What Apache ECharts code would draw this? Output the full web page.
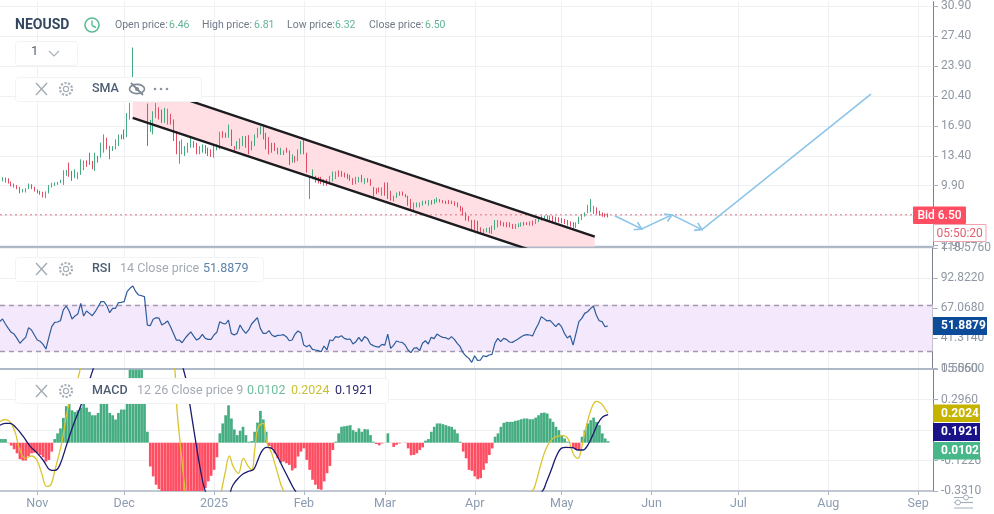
<!DOCTYPE html>
<html><head><meta charset="utf-8">
<style>html,body{margin:0;padding:0;background:#fff}#c{width:994px;height:514px}</style>
<script src="https://cdn.jsdelivr.net/npm/echarts@6/dist/echarts.min.js"></script>
</head><body><div id="c"></div>
<script>
// ---- values (one entry per day, starting 19 Oct 2024) ----
const firstDay = Date.UTC(2024, 9, 19);
const opens = [
 10.9,10.4,10.86,10.78,10.39,10.16,9.97,9.77,9.11,9.11,9.5,10.08,9.77,
 9.46,9.31,9.19,8.46,9.0,9.7,9.85,10.0,10.2,10.0,11.05,12.6,11.63,10.78,10.66,11.17,11.71,12.87,13.76,12.8,11.63,13.38,13.18,13.76,15.51,14.54,13.96,14.15,14.54,15.9,
 16.48,15.59,17.64,22.5,22,20.8,21.5,21,19.5,16.2,15.89,17.83,19.07,18.8,17.25,17.05,18.3,17.64,16.28,12.48,13.57,13.37,13.76,14.34,15.12,14.92,13.57,13.76,14.65,14.34,14.15,
 13.18,14.03,14.15,16.28,16.09,15.5,16.47,14.53,14.15,14.15,14.53,15.7,15.81,14.03,14.53,15.5,15.89,16.86,16.09,15.58,14.92,14.92,14.34,13.49,13.49,14.34,14.03,12.6,13.37,12.79,13.57,
 15.31,13.76,8.33,10.66,11.05,10.94,10.94,9.89,10.67,10.08,10.39,10.67,11.71,11.63,11.44,11.32,11.17,10.78,10.08,10.28,11.17,10.08,10.78,10.67,9.77,9.62,9.7,8.73,
 10.28,10.28,9.31,8.07,8.46,9.23,9.23,8.92,8.73,8.34,7.06,7.37,7.37,7.56,8.15,7.56,8.22,7.76,7.95,8.34,8.22,8.15,8.22,8.15,8.07,7.95,7.56,7.37,6.79,6.4,5.9,
 5.9,5.82,5.04,4.35,4.46,5.04,4.27,4.73,5.04,5.82,5.63,5.63,5.63,5.43,4.85,5.04,5.12,5.66,5.63,5.24,5.82,5.43,5.63,5.82,5.9,6.44,6.4,6.4,6.28,6.2,
 6.13,6.01,5.9,5.74,5.63,4.97,5.43,5.9,6.28,6.67,6.79,6.59,7.37,6.98,6.79,6.67,6.67
];
const closes = [
 10.4,10.9,10.28,10.16,9.81,9.7,9.5,9.0,9.5,9.62,10.16,9.5,9.23,
 9.0,8.84,8.53,9.23,10.0,10.24,10.28,10.35,10.6,11.71,11.75,10.94,10.47,11.83,11.48,12.99,12.87,12.1,12.33,11.83,13.76,12.6,14.93,15.9,14.15,12.99,14.54,15.32,15.9,15.32,
 15.32,18.4,19.58,26.05,20.5,22,20.5,20.3,14.55,17.6,18.6,19.57,17.64,17.25,19.0,18.9,17.05,15.12,13.57,15.12,15.31,14.53,14.92,15.5,14.34,13.57,14.53,14.73,13.64,13.37,13.26,
 14.73,14.73,16.2,15.5,15.5,17.05,14.53,13.76,15.12,15.43,15.7,14.34,13.57,15.12,15.89,16.67,16.86,15.31,14.15,13.57,13.76,13.95,13.57,14.34,14.03,13.76,12.33,13.57,12.6,14.15,15.12,
 13.57,11.43,11.05,11.82,10.28,10.16,10.08,10.67,9.89,11.05,11.56,11.56,10.94,10.94,10.86,10.67,10.47,10.0,10.94,10.94,10.28,10.78,10.28,9.89,8.61,8.92,9.11,9.7,
 8.73,8.34,8.15,8.73,9.11,8.73,8.73,8.53,7.56,7.18,7.95,7.95,7.95,8.15,7.76,8.22,7.68,8.34,8.53,7.95,7.84,7.76,7.76,7.76,7.56,7.37,6.9,6.4,5.82,5.74,4.66,
 4.73,4.46,4.27,4.85,4.97,4.35,5.24,5.9,5.9,5.24,5.12,5.04,5.04,4.85,5.43,5.51,5.63,5.24,5.31,5.74,5.24,6.01,6.2,6.4,6.4,5.9,5.82,5.63,5.63,5.63,
 5.51,5.43,5.24,5.12,4.97,5.63,6.28,6.59,6.79,7.68,8.34,7.56,6.59,6.4,6.28,6.2,6.2
];
const rsiValues = [
 55.6,57.9,53.6,49.9,46.5,45.0,41.3,37.1,39.9,42.2,
 50.5,48.5,44.2,39.9,38.8,36.2,32.2,42.2,51.3,55.0,
 55.3,56.4,65.6,69.0,64.7,57.9,60.4,62.1,71.3,60.4,
 64.7,62.7,60.7,64.1,68.4,72.7,72.7,69.3,63.3,67.0,
 67.0,71.8,72.1,72.7,81.2,84.1,86.1,81.2,78.4,77.8,
 77.0,52.7,52.2,57.6,59.0,58.7,52.7,54.2,56.2,51.3,
 45.6,39.9,39.9,37.6,41.3,44.2,46.8,43.3,39.9,41.3,
 44.8,41.3,40.5,40.5,44.2,46.5,55.6,54.2,53.6,57.0,
 45.6,44.2,45.6,52.7,48.5,45.6,48.5,53.6,56.4,59.0,
 49.9,45.6,45.6,47.9,44.2,42.8,43.9,44.0,44.5,42.8,39.3,
 39.9,45.0,47.6,46.2,35.6,34.2,35.6,31.9,31.4,30.8,29.9,
 34.8,31.4,
 39.9,39.3,42.8,42.2,43.6,41.3,40.5,40.8,36.5,38.5,
 42.2,38.8,42.8,41.3,36.5,35.1,34.2,33.9,36.2,35.6,
 45.0,32.8,35.4,39.1,38.2,37.9,35.6,31.4,29.1,32.8,
 33.4,30.8,37.1,39.3,36.5,42.2,41.1,45.0,43.3,42.2,
 41.9,40.5,42.8,40.5,37.1,34.2,29.1,26.2,24.2,20.8,
 26.5,22.5,22.8,26.5,25.7,27.1,27.7,37.1,41.3,38.5,
 41.3,40.5,38.2,37.9,39.3,40.8,42.5,43.9,44.5,44.2,
 43.3,49.0,53.6,59.9,58.2,56.2,56.7,54.2,51.3,54.2,
 51.3,45.6,41.6,43.6,35.6,45.6,55.6,58.4,62.7,64.1,
 66.7,69.0,61.3,56.4,55.6,51.3,51.8879
];
const macdHistogram = [
 .025,.025,.025,-.003,-.02,-.045,-.073,-.113,-.122,-.122,
 -.091,-.073,-.068,-.073,-.084,-.1,-.129,-.118,-.061,.025,
 .064,.098,.17,.25,.27,.222,.211,.222,.24,.27,
 .24,.211,.188,.188,.204,.27,.27,.27,.204,.188,
 .159,.204,.227,.227,.27,.5,.5,.5,.5,.5,
 .3,.075,-.163,-.231,-.288,-.318,-.37,-.42,-.47,-.52,
 -.55,-.58,-.6,-.58,-.56,-.52,-.48,-.44,-.41,-.38,
 -.35,-.31,-.265,-.227,-.186,-.1,.064,.132,.188,.256,
 .166,.091,.052,.082,.109,.052,.007,.011,.075,.138,
 .218,.159,.075,-.023,-.039,-.073,-.107,-.136,-.129,-.141,
 -.152,-.19,-.175,-.095,-.061,-.039,-.118,-.186,-.254,-.288,
 -.318,-.322,-.265,-.209,-.159,-.05,.007,.064,.109,.113,
 .116,.12,.086,.075,.098,.075,.093,.091,.052,.007,
 -.009,-.018,-.005,.001,.064,.001,-.029,-.014,-.005,.001,
 -.002,-.039,-.086,-.084,-.073,-.05,-.032,.014,.025,.075,
 .109,.132,.132,.127,.12,.113,.109,.091,.064,.007,
 -.061,-.107,-.186,-.193,-.231,-.25,-.243,-.186,-.141,-.084,
 -.039,.041,.064,.109,.136,.143,.143,.143,.15,.154,
 .161,.166,.166,.161,.161,.172,.188,.204,.206,.2,
 .166,.143,.109,.086,.052,.029,.007,-.002,-.039,-.05,
 -.05,.041,.086,.132,.154,.172,.143,.12,.064,.029,.0102
];
// day number since firstDay, value
const macdLine = [[.1,.12],[1.9,.132],[3.6,.132],[5.9,.098],[8.2,.041],[10.5,-.023],[12.8,-.068],[15.1,-.122],[17.4,-.186],[19.1,-.19],[20.8,-.152],[23.1,-.016],[25.4,.12],[28.3,.268],[32.1,.494],[38,.85],[49.6,1.05],[57.6,.85],[64,.46],[65.7,.256],[67.4,.041],[69.1,-.163],[70.9,-.327],[74.9,-.52],[78.3,-.48],[79.8,-.327],[80.6,-.288],[82.4,-.243],[84.1,-.213],[85.8,-.197],[87.5,-.186],[88.7,-.141],[90.4,-.061],[92.1,-.032],[93.9,-.039],[95.6,-.084],[97.9,-.175],[100.2,-.265],[101.9,-.327],[110,-.55],[130,-.65],[150,-.6],[170,-.55],[180,-.5],[187.5,-.327],[188.6,-.277],[190.4,-.186],[192.1,-.095],[193.8,-.039],[195.5,-.032],[197.8,-.034],[199.6,-.05],[201.3,-.05],[203,-.016],[204.7,.052],[206.5,.132],[208.2,.177],[210,.1921]];
const signalLine = [[.1,.143],[1.9,.159],[3.6,.143],[5.3,.075],[7,-.05],[8.8,-.107],[11,-.091],[12.8,-.118],[14.5,-.209],[16.2,-.299],[17.4,-.295],[19.1,-.186],[21.4,-.005],[23.7,.245],[27.7,.494],[30,.9],[46.1,1.1],[57.6,.9],[60.5,.494],[61.1,.256],[62.2,.018],[64,-.327],[65.1,-.5],[73.7,-.6],[76.6,-.327],[77.8,-.209],[79.3,-.091],[80.6,-.163],[82.4,-.209],[84.1,-.107],[85.8,-.163],[87,-.186],[88.1,-.039],[89.3,.109],[91,.132],[92.1,.007],[93.9,-.073],[95.6,-.186],[97.9,-.327],[105,-.55],[130,-.65],[160,-.6],[175,-.5],[184,-.327],[185.2,-.265],[186.9,-.141],[188.6,-.039],[190.4,.018],[192.1,.041],[194.4,.048],[196.1,.029],[197.3,-.039],[198.4,-.091],[199.6,-.107],[200.7,-.05],[201.9,.064],[203,.154],[204.7,.256],[205.9,.283],[207.6,.268],[209.3,.222],[210,.2024]];
const channelDays = [45.92, 205.4];
const channelUpper = [22.07, 3.96];
const channelLower = [17.83, -0.11];
// hand-drawn path on the price pane: day number, price, arrow head at this point
const pathDays = [212.3, 221.6, 232, 242.4, 300.7];
const pathPrices = [6.4, 4.85, 6.5, 4.77, 20.6];
const pathHeads = [0, 1, 1, 1, 0];
const bidPrice = 6.5;
const rsiUpper = 70, rsiLower = 30;
const priceTicks = [2.9,6.4,9.9,13.4,16.9,20.4,23.9,27.4,30.9];
const rsiTicks = [15.56,41.314,67.068,92.822,118.576];
const macdTicks = [-0.331,-0.122,0.087,0.296,0.505];
const xTickDates = ['2024-11-01','2024-12-01','2025-01-01','2025-02-01','2025-03-01','2025-04-01','2025-05-01','2025-06-01','2025-07-01','2025-08-01','2025-09-01'];
const xTickLabels = ['Nov','Dec','2025','Feb','Mar','Apr','May','Jun','Jul','Aug','Sep'];

// ---- chart ---- (x axis counts days since firstDay)
const DAY = 86400000;
const xTicks = xTickDates.map(s => Math.round((Date.parse(s + 'T00:00:00Z') - firstDay) / DAY));
const xMin = 0.13, xMax = 322.13;
const FONT = 'Roboto, sans-serif';
const GRIDC = '#eef0f4', LABELC = '#8f97a4', SEP = '#aeb8c6';
const UP = '#46ad82', DOWN = '#ff4d62';

const grids = [
 {left:0,right:61,top:0,height:246.5},
 {left:0,right:61,top:248,height:120.5},
 {left:0,right:61,top:369,height:122}
];
function xAxis(i){
 return {type:'value',gridIndex:i,min:xMin,max:xMax,
  axisLine:{show:true,onZero:false,lineStyle:{color:SEP,width:i===2?1.5:2}},
  axisTick:{show:i===2,customValues:xTicks,length:4,lineStyle:{color:SEP}},
  axisLabel:{show:i===2,customValues:xTicks,color:'#8b9bb0',fontFamily:FONT,fontSize:12.5,margin:6,hideOverlap:false,
   formatter:v=>xTickLabels[xTicks.indexOf(v)]||''},
  splitLine:{show:true,lineStyle:{color:GRIDC,width:1}}
 };
}
function yAxis(i,min,max,ticks,fmt){
 return {type:'value',gridIndex:i,position:'right',min,max,
  axisLine:{show:true,onZero:false,lineStyle:{color:'#7a808a',width:1}},
  axisTick:{show:true,length:5,customValues:ticks,lineStyle:{color:'#a9b0ba'}},
  axisLabel:{customValues:ticks,color:LABELC,fontFamily:FONT,fontSize:12,margin:8,hideOverlap:false,formatter:v=>v.toFixed(fmt)},
  splitLine:{show:true,lineStyle:{color:GRIDC,width:1}}
 };
}
const candleData = opens.map((o,i)=>[i,o,closes[i],Math.min(o,closes[i]),Math.max(o,closes[i])]);

const series = [
 {type:'custom',xAxisIndex:0,yAxisIndex:0,z:1,clip:true,silent:true,data:[[channelDays[0],channelUpper[0]]],
  renderItem:(p,api)=>{
   const pts=[[channelDays[0],channelUpper[0]],[channelDays[1],channelUpper[1]],[channelDays[1],channelLower[1]],[channelDays[0],channelLower[0]]]
    .map(a=>api.coord(a));
   return {type:'polygon',shape:{points:pts},style:{fill:'#ffdfe3'}};
  }},
 {type:'line',xAxisIndex:0,yAxisIndex:0,z:2,symbol:'none',silent:true,data:[[xMin,bidPrice],[xMax,bidPrice]],
  lineStyle:{color:'#e0707e',width:1,type:[2,3]}},
 {type:'candlestick',xAxisIndex:0,yAxisIndex:0,z:3,barWidth:1,silent:true,data:candleData,
  itemStyle:{color:UP,color0:DOWN,borderColor:UP,borderColor0:'#e24c62',borderWidth:1}},
 {type:'line',xAxisIndex:0,yAxisIndex:0,z:4,symbol:'none',silent:true,data:channelDays.map((d,i)=>[d,channelUpper[i]]),
  lineStyle:{color:'#1c1c20',width:2.4}},
 {type:'line',xAxisIndex:0,yAxisIndex:0,z:4,symbol:'none',silent:true,data:channelDays.map((d,i)=>[d,channelLower[i]]),
  lineStyle:{color:'#1c1c20',width:2.4}},
 {type:'custom',xAxisIndex:0,yAxisIndex:0,z:5,clip:true,silent:true,data:[[pathDays[0],pathPrices[0]]],
  renderItem:(p,api)=>{
   const pts=pathDays.map((d,i)=>api.coord([d,pathPrices[i]]));
   const children=[{type:'polyline',shape:{points:pts},style:{stroke:'#8cc4e8',lineWidth:1.6,fill:'none'}}];
   pts.forEach((q,i)=>{
    if(!pathHeads[i])return;
    const a=Math.atan2(q[1]-pts[i-1][1],q[0]-pts[i-1][0]);
    const wing=s=>[q[0]-8*Math.cos(a+s),q[1]-8*Math.sin(a+s)];
    children.push({type:'polyline',shape:{points:[wing(.55),q,wing(-.55)]},style:{stroke:'#8cc4e8',lineWidth:1.6,fill:'none'}});
   });
   return {type:'group',children};
  }},
 {type:'line',xAxisIndex:1,yAxisIndex:1,z:3,symbol:'none',silent:true,data:rsiValues.map((v,i)=>[i,v]),
  lineStyle:{color:'#2e5c9a',width:1.2},
  markArea:{silent:true,z:1,itemStyle:{color:'#f4e8fc'},data:[[{yAxis:rsiUpper},{yAxis:rsiLower}]]},
  markLine:{silent:true,symbol:'none',z:2,label:{show:false},lineStyle:{color:'#a49aae',width:1.4,type:[5,4]},data:[{yAxis:rsiUpper},{yAxis:rsiLower}]}},
 {type:'bar',xAxisIndex:2,yAxisIndex:2,z:2,barWidth:2.7,silent:true,
  data:macdHistogram.map((v,i)=>({value:[i,v],itemStyle:{color:v>=0?UP:DOWN}}))},
 {type:'line',xAxisIndex:2,yAxisIndex:2,z:3,symbol:'none',smooth:.4,silent:true,data:signalLine,
  lineStyle:{color:'#d9c52e',width:1.3}},
 {type:'line',xAxisIndex:2,yAxisIndex:2,z:4,symbol:'none',smooth:.4,silent:true,data:macdLine,
  lineStyle:{color:'#1b1a6e',width:1.3}}
];

// ---- toolbars, tags, icons ----
const g=[];
const Z=100;
function txt(x,y,t,fill,size,weight,align){g.push({type:'text',z:Z+2,silent:true,style:{x,y,text:t,fill,font:(weight||400)+' '+(size||12)+'px '+FONT,verticalAlign:'middle',align:align||'left'}});}
function box(x,y,w,h,fill,stroke,r){g.push({type:'rect',z:Z,silent:true,shape:{x,y,width:w,height:h,r:r||0},style:{fill,stroke:stroke||null,lineWidth:stroke?1:0}});}
function ln(x1,y1,x2,y2,c,w){g.push({type:'line',z:Z+1,silent:true,shape:{x1,y1,x2,y2},style:{stroke:c,lineWidth:w||1.3}});}
function crossGear(cy){
 ln(36,cy-6,47,cy+6,'#a3abb5',1.4);ln(47,cy-6,36,cy+6,'#a3abb5',1.4);
 g.push({type:'circle',z:Z+1,silent:true,shape:{cx:66,cy,r:6},style:{fill:'none',stroke:'#a9b0b9',lineWidth:2.2,lineDash:[2.2,1.5]}});
 g.push({type:'circle',z:Z+1,silent:true,shape:{cx:66,cy,r:2.6},style:{fill:'none',stroke:'#a9b0b9',lineWidth:1.2}});
}
const PANEL='#f2f3f5';
txt(15,25,'NEOUSD','#33475f',14,700);
g.push({type:'circle',z:Z+1,silent:true,shape:{cx:92,cy:25,r:7},style:{fill:'none',stroke:'#5dbb94',lineWidth:1.6}});
ln(92,20.5,92,25.5,'#5dbb94',1.4);ln(92,25.5,96,27.5,'#5dbb94',1.4);
[[115,'Open price:',169,'6.46'],[202,'High price:',254,'6.81'],[287,'Low price:',335,'6.32'],[369,'Close price:',425,'6.50']].forEach(a=>{
 txt(a[0],25.5,a[1],'#6f7a88',10.5);txt(a[2],25.5,a[3],'#63b595',10.5);
});
box(15.5,41.5,62,24,'#fff',PANEL,3);
txt(31,52,'1','#59636f',13);
g.push({type:'polyline',z:Z+1,silent:true,shape:{points:[[49,51],[54,56],[59,51]]},style:{fill:'none',stroke:'#a9b0b9',lineWidth:1.2}});
box(15.5,77.5,186,24,'#fff',PANEL,3);
crossGear(89);
txt(92,89,'SMA','#4c5c72',12.5,500);
g.push({type:'ellipse',z:Z+1,silent:true,shape:{cx:137,cy:89,rx:7.5,ry:4.6},style:{fill:'none',stroke:'#7f8995',lineWidth:1.6}});
g.push({type:'circle',z:Z+1,silent:true,shape:{cx:137,cy:89,r:2},style:{fill:'#7f8995'}});
ln(131,83,143,95,'#7f8995',1.8);
[155,161,167].forEach(x=>g.push({type:'circle',z:Z+1,silent:true,shape:{cx:x,cy:89,r:1.3},style:{fill:'#8b94a0'}}));
box(15.5,257.5,248,24,'#fff',PANEL,3);
crossGear(269);
txt(92,269,'RSI','#4c5c72',12.5,500);
txt(120,269,'14 Close price','#a3aab4',12.5);
txt(203,269,'51.8879','#5c83ab',12.5);
box(15.5,378.5,373,25,'#fff',PANEL,3);
crossGear(391);
txt(92,391,'MACD','#4c5c72',12.5,500);
txt(137,391,'12 26 Close price 9','#a3aab4',12.5);
txt(247,391,'0.0102','#6fbd9c',12.5);
txt(291,391,'0.2024','#c9c234',12.5);
txt(335,391,'0.1921','#2a2a6e',12.5);
// value tags
box(913,206.5,53,17.5,'#ff4d62',null,1);
txt(939.5,215.5,'Bid 6.50','#fff',12,500,'center');
box(933.5,224.5,52.5,17,'#fff','#f2a5ae',0);
txt(959.7,233.5,'05:50:20','#e0606f',12,400,'center');
box(933,317,54,18,'#0b4b98');
txt(941,326.3,'51.8879','#fff',12,700);
box(933,404.5,47,17.5,'#c6b300');
txt(941,413.5,'0.2024','#fff',12,700);
box(933,423,47,18,'#1a1288');
txt(941,432.3,'0.1921','#fff',12,700);
box(933,442,47,17.5,'#47b78a');
txt(941,451,'0.0102','#fff',12,700);
// pane settings icon
ln(954,497.5,973,497.5,'#a4aeba',1);ln(954,502.5,973,502.5,'#a4aeba',1.2);ln(954,508,973,508,'#a4aeba',1);
g.push({type:'circle',z:Z+1,silent:true,shape:{cx:966,cy:497.5,r:2.5},style:{fill:'#fff',stroke:'#a4aeba',lineWidth:1}});
g.push({type:'circle',z:Z+1,silent:true,shape:{cx:958,cy:502.5,r:2.5},style:{fill:'#fff',stroke:'#a4aeba',lineWidth:1}});

const chart = echarts.init(document.getElementById('c'),null,{renderer:'canvas'});
chart.setOption({
 animation:false,backgroundColor:'#fff',
 grid:grids,
 xAxis:[xAxis(0),xAxis(1),xAxis(2)],
 yAxis:[yAxis(0,2.8,31.4,priceTicks,2),yAxis(1,15.56,118.576,rsiTicks,4),yAxis(2,-0.331,0.505,macdTicks,4)],
 series,
 graphic:{elements:g}
});
</script></body></html>
